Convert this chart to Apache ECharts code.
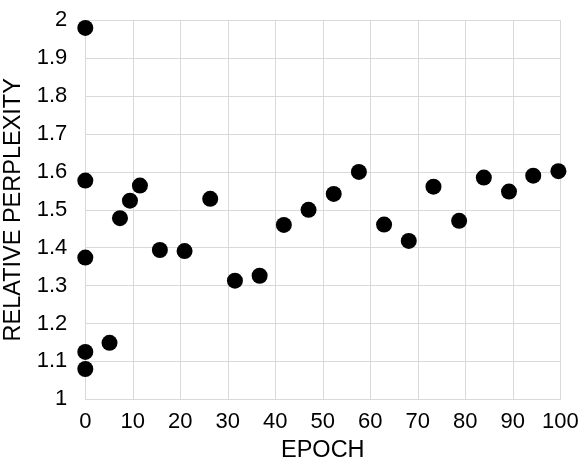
<!DOCTYPE html>
<html>
<head>
<meta charset="utf-8">
<script src="https://cdn.jsdelivr.net/npm/echarts@6/dist/echarts.min.js"></script>
<style>html,body{margin:0;padding:0;background:#fff}#chart{width:588px;height:471px}</style>
</head>
<body>
<div id="chart"></div>
<script>
const epochs = [0, 0, 0, 0, 0, 5.1, 7.3, 9.4, 11.5, 15.7, 20.9, 26.3, 31.5, 36.7, 41.8, 47.0, 52.3, 57.6, 62.9, 68.1, 73.3, 78.7, 83.9, 89.2, 94.3, 99.6];
const relPerplexity = [1.98, 1.577, 1.374, 1.125, 1.080, 1.149, 1.478, 1.524, 1.564, 1.394, 1.391, 1.529, 1.313, 1.326, 1.460, 1.500, 1.542, 1.600, 1.461, 1.418, 1.561, 1.471, 1.585, 1.548, 1.590, 1.602];
const xTicks = [0, 10, 20, 30, 40, 50, 60, 70, 80, 90, 100];
const yTicks = [1, 1.1, 1.2, 1.3, 1.4, 1.5, 1.6, 1.7, 1.8, 1.9, 2];

const font = "'Liberation Sans', Arial, Helvetica, sans-serif";
const chart = echarts.init(document.getElementById('chart'), null, {renderer: 'canvas'});
chart.setOption({
  animation: false,
  backgroundColor: '#fff',
  grid: {left: 85.3, right: 27.7, top: 20.3, bottom: 71.7, containLabel: false, outerBoundsMode: 'none'},
  xAxis: {
    type: 'value', min: xTicks[0], max: xTicks[xTicks.length - 1], interval: 10,
    name: 'EPOCH', nameLocation: 'middle', nameGap: 39,
    nameTextStyle: {fontFamily: font, fontSize: 23.5, color: '#000'},
    axisLine: {show: true, lineStyle: {color: '#d9d9d9', width: 1}},
    axisTick: {show: false},
    axisLabel: {fontFamily: font, fontSize: 22, color: '#000', margin: 12},
    splitLine: {show: true, lineStyle: {color: '#d9d9d9', width: 1}}
  },
  yAxis: {
    type: 'value', min: yTicks[0], max: yTicks[yTicks.length - 1], interval: 0.1,
    name: 'RELATIVE PERPLEXITY', nameLocation: 'middle', nameGap: 58,
    nameTextStyle: {fontFamily: font, fontSize: 23.5, color: '#000'},
    axisLine: {show: true, lineStyle: {color: '#d9d9d9', width: 1}},
    axisTick: {show: false},
    axisLabel: {fontFamily: font, fontSize: 22, color: '#000', margin: 18,
      formatter: v => String(Math.round(v * 10) / 10)},
    splitLine: {show: true, lineStyle: {color: '#d9d9d9', width: 1}}
  },
  series: [{
    type: 'scatter',
    symbolSize: 16,
    itemStyle: {color: '#000', opacity: 1},
    data: epochs.map((e, i) => [e, relPerplexity[i]]),
    clip: false
  }]
});
</script>
</body>
</html>
